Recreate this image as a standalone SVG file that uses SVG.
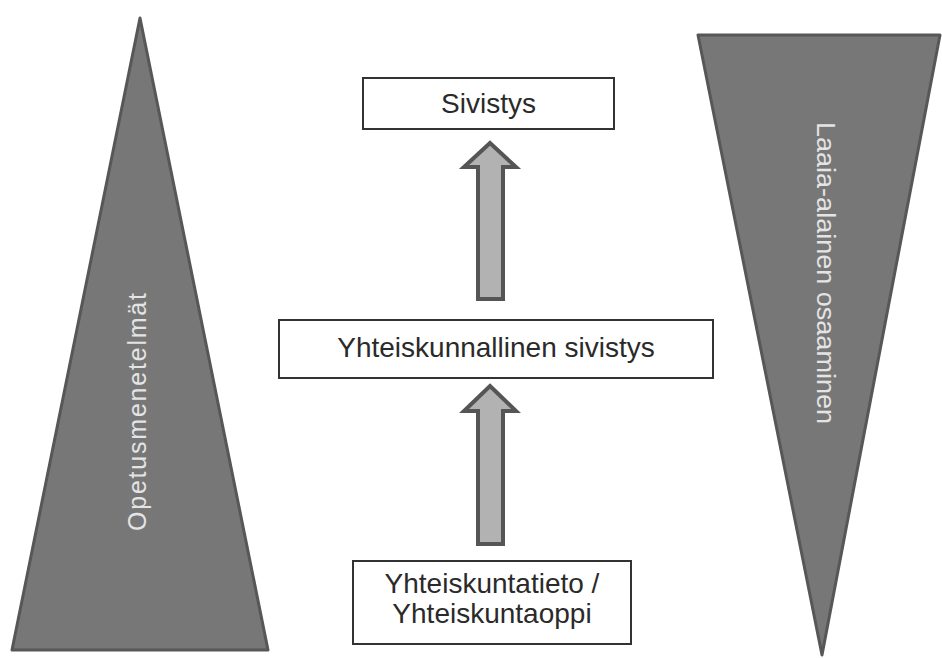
<svg xmlns="http://www.w3.org/2000/svg" width="942" height="658" viewBox="0 0 942 658">
<style>
.tri{fill:#777;stroke:#575757;stroke-width:3;stroke-linejoin:round}
.box{fill:#fff;stroke:#333;stroke-width:2}
.lbl{font-family:"Liberation Sans",Arial,sans-serif;font-size:28px;fill:#2a2a2a;text-anchor:middle}
.tlbl{font-family:"Liberation Sans",Arial,sans-serif;fill:#e4e4e4;text-anchor:middle}
.arr{fill:#b2b2b2;stroke:#555;stroke-width:4;stroke-linejoin:miter}
</style>
<rect width="942" height="658" fill="#fff"/>
<g id="opetusmenetelmat">
<polygon class="tri" points="140,18 268,650 12,650"/>
<text class="tlbl" transform="translate(146,412) rotate(-90)" font-size="25" textLength="238" lengthAdjust="spacing">Opetusmenetelmät</text>
</g>
<g id="laaja-alainen">
<polygon class="tri" points="698,35 940,35 822,655"/>
<text class="tlbl" transform="translate(817,273) rotate(90)" font-size="26" textLength="302" lengthAdjust="spacingAndGlyphs">Laaia-alainen osaaminen</text>
</g>
<g id="sivistys">
<rect class="box" x="363" y="78" width="251" height="51"/>
<text class="lbl" x="488.5" y="113">Sivistys</text>
</g>
<g id="yhteiskunnallinen">
<rect class="box" x="279" y="320" width="434" height="58"/>
<text class="lbl" x="496" y="357">Yhteiskunnallinen sivistys</text>
</g>
<g id="yhteiskuntatieto">
<rect class="box" x="353" y="561" width="278" height="83"/>
<text class="lbl" x="492" y="593">Yhteiskuntatieto /</text>
<text class="lbl" x="492" y="623">Yhteiskuntaoppi</text>
</g>
<g id="connectors">
<polygon class="arr" points="490,143 516,167 503,167 503,299 478,299 478,167 464,167"/>
<polygon class="arr" points="490,386 516,411 503,411 503,544 478,544 478,411 464,411"/>
</g>
</svg>
